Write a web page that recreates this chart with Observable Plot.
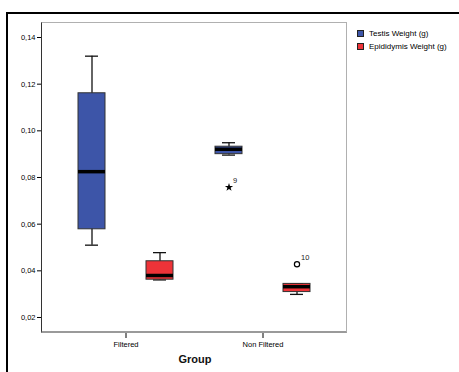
<!DOCTYPE html>
<html>
<head>
<meta charset="utf-8">
<script src="https://cdn.jsdelivr.net/npm/d3@7"></script>
<script src="https://cdn.jsdelivr.net/npm/@observablehq/plot@0.6"></script>
<style>
  html, body { margin: 0; padding: 0; background: #fff; overflow: hidden; }
  #wrap { position: relative; width: 459px; height: 372px; overflow: hidden; font-family: "Liberation Sans", Arial, sans-serif; }
  #outer { position: absolute; left: 6px; top: 12px; width: 600px; height: 500px; border-left: 2px solid #000; border-top: 2px solid #000; pointer-events: none; }
  #frame { position: absolute; left: 41px; top: 22px; width: 306px; height: 311px; box-sizing: border-box;
           border-top: 1.5px solid #b0b0b0; border-right: 1.5px solid #b0b0b0; border-bottom: 2px solid #9a9a9a; border-left: 1px solid #333; pointer-events: none; }
  #legend { position: absolute; left: 357px; top: 27px; font-size: 8px; color: #000; }
  #legend .item { display: flex; align-items: center; height: 13px; }
  #legend .sw { width: 5px; height: 5px; border: 1px solid #222; margin-right: 5px; }
  #xtitle { position: absolute; left: 0; width: 390px; top: 353px; text-align: center; font-weight: bold; font-size: 11px; color: #111; }
  svg { position: absolute; left: 0; top: 0; }
</style>
</head>
<body>
<div id="wrap"></div>
<script>
// ---- data ----
const groupDomain = ["Filtered", "Non Filtered"];
const seriesDomain = ["Testis Weight (g)", "Epididymis Weight (g)"];
const seriesColors = ["#3d55a8", "#ee3338"];

const boxGroups  = ["Filtered", "Filtered", "Non Filtered", "Non Filtered"];
const boxSeries  = ["Testis Weight (g)", "Epididymis Weight (g)", "Testis Weight (g)", "Epididymis Weight (g)"];
const boxMin     = [0.0510, 0.0361, 0.0896, 0.0299];
const boxQ1      = [0.0578, 0.0362, 0.0900, 0.0309];
const boxMedian  = [0.0825, 0.0380, 0.0921, 0.0332];
const boxQ3      = [0.1161, 0.0441, 0.0932, 0.0344];
const boxMax     = [0.1320, 0.0478, 0.0949, 0.0345];

const outGroups = ["Non Filtered", "Non Filtered"];
const outSeries = ["Testis Weight (g)", "Epididymis Weight (g)"];
const outValues = [0.0758, 0.0428];
const outIds    = ["9", "10"];
const outKinds  = ["extreme", "outlier"];

const yTicks = [0.02, 0.04, 0.06, 0.08, 0.10, 0.12, 0.14];
const yDomain = [0.01314, 0.14643];

// ---- tables built from the arrays ----
const boxes = boxGroups.map((g, i) => ({group: g, series: boxSeries[i], min: boxMin[i], q1: boxQ1[i], median: boxMedian[i], q3: boxQ3[i], max: boxMax[i]}));
const outliers = outGroups.map((g, i) => ({group: g, series: outSeries[i], value: outValues[i], id: outIds[i], kind: outKinds[i]}));

const fmt = d => d.toFixed(2).replace(".", ",");

const fxPadOuter = 0.109;
const hasAxisMarks = typeof Plot.axisY === "function";

const marks = [
  Plot.ruleX(boxes, {x: "series", y1: "min", y2: "max", stroke: "#111", strokeWidth: 1.3}),
  Plot.tickY(boxes, {x: "series", y: "max", stroke: "#111", strokeWidth: 1.3, insetLeft: 7, insetRight: 7}),
  Plot.tickY(boxes, {x: "series", y: "min", stroke: "#111", strokeWidth: 1.3, insetLeft: 7, insetRight: 7}),
  Plot.barY(boxes, {x: "series", y1: "q1", y2: "q3", fill: "series", stroke: "#333", strokeWidth: 1}),
  Plot.tickY(boxes, {x: "series", y: "median", stroke: "#000", strokeWidth: 3.5}),
  Plot.dot(outliers.filter(d => d.kind === "extreme"), {x: "series", y: "value", fx: "group", symbol: "star", fill: "#000", r: 2.6}),
  Plot.dot(outliers.filter(d => d.kind === "outlier"), {x: "series", y: "value", fx: "group", symbol: "circle", fill: "#fff", stroke: "#000", strokeWidth: 1.2, r: 2.6}),
  Plot.text(outliers, {x: "series", y: "value", fx: "group", text: "id", dx: 4, dy: -7, textAnchor: "start", fontSize: 7.5, fill: "#222"})
];
if (hasAxisMarks) {
  // the y axis sits on the left edge of the whole frame, not the first facet
  marks.push(Plot.axisY({ticks: yTicks, tickFormat: fmt, tickSize: 5, tickPadding: 2, label: null, dx: -15, stroke: "#000", fill: "#000"}));
}

const chart = Plot.plot({
  width: 459,
  height: 372,
  marginLeft: 41,
  marginRight: 112,
  marginTop: 22,
  marginBottom: 39,
  style: {fontFamily: "Liberation Sans, Arial, sans-serif", fontSize: "7.5px", background: "transparent", color: "#000"},
  facet: {data: boxes, x: "group"},
  fx: {domain: groupDomain, paddingInner: 0, paddingOuter: fxPadOuter, label: null, tickSize: 5, tickPadding: 3},
  x: {domain: seriesDomain, paddingInner: 0.6, paddingOuter: 0.3, axis: null},
  y: hasAxisMarks
    ? {domain: yDomain, axis: null}
    : {domain: yDomain, ticks: yTicks, tickFormat: fmt, label: null, tickSize: 5, tickPadding: 2},
  color: {domain: seriesDomain, range: seriesColors},
  marks
});

const wrap = document.getElementById("wrap");
wrap.appendChild(chart);

const outer = document.createElement("div"); outer.id = "outer"; wrap.appendChild(outer);
const frame = document.createElement("div"); frame.id = "frame"; wrap.appendChild(frame);

const legend = document.createElement("div"); legend.id = "legend";
seriesDomain.forEach((s, i) => {
  const item = document.createElement("div"); item.className = "item";
  const sw = document.createElement("div"); sw.className = "sw"; sw.style.background = seriesColors[i];
  const lab = document.createElement("span"); lab.textContent = s;
  item.appendChild(sw); item.appendChild(lab); legend.appendChild(item);
});
wrap.appendChild(legend);

const xt = document.createElement("div"); xt.id = "xtitle"; xt.textContent = "Group"; wrap.appendChild(xt);
</script>
</body>
</html>
